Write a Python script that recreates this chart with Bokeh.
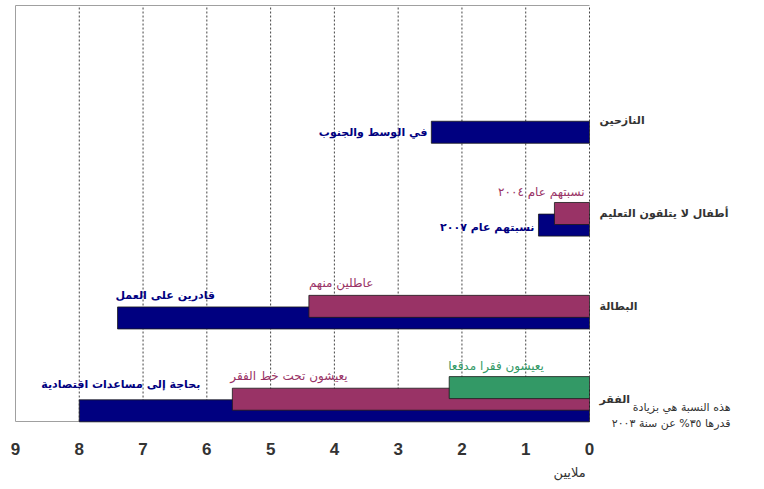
from bokeh.plotting import figure
from bokeh.models import Range1d, FixedTicker, Title
from bokeh.core.properties import value
from bokeh.embed import file_html
from bokeh.resources import INLINE

# Categories, top to bottom
categories = ["النازحين", "أطفال لا يتلقون التعليم", "البطالة", "الفقر"]

# Values in millions (None = no bar in that category)
navy_vals = [2.48, 0.8, 7.4, 8.0]
maroon_vals = [None, 0.55, 4.4, 5.6]
green_vals = [None, None, None, 2.2]

navy_text = ["في الوسط والجنوب", "نسبتهم عام ٢٠٠٧", "قادرين على العمل", "بحاجة إلى مساعدات اقتصادية"]
maroon_text = [None, "نسبتهم عام ٢٠٠٤", "عاطلين منهم", "يعيشون تحت خط الفقر"]
green_text = [None, None, None, "يعيشون فقرا مدقعا"]

x_ticks = list(range(0, 10))
x_label = "ملايين"
note_lines = ["هذه النسبة هي بزيادة", "قدرها ٣٥% عن سنة ٢٠٠٣"]

NAVY = "#000080"
MAROON = "#993366"
GREEN = "#339966"
AR_FONT = value("DejaVu Sans")

n = len(categories)
ypos = [n - 1 - i for i in range(n)]  # top category gets the highest y

# bar area spans x 9..0 and y -0.24..4.24; the frame reaches further right and
# a little lower so the category names and the footnote can sit beside the bars
X_HI, X_LO = max(x_ticks), min(x_ticks)
Y_LO, Y_HI = -0.24, 4.24
PX_X = 574 / (X_HI - X_LO)          # pixels per million
PX_Y = 416 / (Y_HI - Y_LO)          # pixels per category step

p = figure(width=764, height=489, output_backend="svg", toolbar_location=None,
           x_range=Range1d(X_HI + 1 / PX_X, X_LO - 175 / PX_X),
           y_range=Range1d(Y_LO - 13 / PX_Y, Y_HI + 1 / PX_Y),
           min_border_left=14, min_border_right=0, min_border_top=4,
           min_border_bottom=55, y_axis_location=None, x_axis_location="below")
p.background_fill_color = "white"
p.border_fill_color = "white"
p.outline_line_color = None

# bottom axis: numbers only
xa = p.xaxis[0]
xa.ticker = FixedTicker(ticks=x_ticks)
xa.axis_line_color = None
xa.major_tick_line_color = None
xa.minor_tick_line_color = None
xa.major_label_text_font = "Liberation Sans"
xa.major_label_text_font_style = "bold"
xa.major_label_text_font_size = "17px"
xa.major_label_text_color = "#333333"
xa.major_label_standoff = 2

p.xgrid.grid_line_color = None
p.ygrid.grid_line_color = None

# dotted gridlines at the inner ticks, limited to the bar area
inner = x_ticks[1:-1]
p.segment(x0=inner, y0=[Y_LO] * len(inner), x1=inner, y1=[Y_HI] * len(inner),
          line_color="#444444", line_width=1, line_dash="2 2")

# plot-area border (top, left, bottom)
p.segment(x0=[X_HI, X_HI, X_HI], y0=[Y_HI, Y_LO, Y_LO],
          x1=[X_LO, X_HI, X_LO], y1=[Y_HI, Y_HI, Y_LO],
          line_color="#a0a0a0", line_width=1)

BAR_H = 0.237
series = [
    (navy_vals, NAVY, -0.125),
    (maroon_vals, MAROON, 0.0),
    (green_vals, GREEN, 0.125),
]
for vals, color, off in series:
    ys, rs = [], []
    for y, v in zip(ypos, vals):
        if v is not None:
            ys.append(y + off)
            rs.append(v)
    p.hbar(y=ys, left=0, right=rs, height=BAR_H, fill_color=color,
           line_color="#1a1a1a", line_width=0.8)

# dotted zero line on the right
p.segment(x0=[X_LO], y0=[Y_LO], x1=[X_LO], y1=[Y_HI],
          line_color="#444444", line_width=1, line_dash="2 2")

# category names to the right of the zero line
p.text(x=[X_LO] * n, y=ypos, text=categories, text_color="#333333",
       text_align="left", text_baseline="middle", text_font=AR_FONT,
       text_font_size="11px", text_font_style="bold", x_offset=10)

def put(x, y, txt, color, align, xo, yo, bold=False):
    p.text(x=[x], y=[y], text=[txt], text_color=color, text_align=align,
           text_baseline="middle", text_font=AR_FONT,
           text_font_size="11px" if bold else "12px",
           text_font_style="bold" if bold else "normal", x_offset=xo, y_offset=yo)

# displaced
put(navy_vals[0], ypos[0] - 0.125, navy_text[0], NAVY, "right", -4, 0, True)
# children
put(0, ypos[1], maroon_text[1], MAROON, "right", -5, -22)
put(navy_vals[1], ypos[1] - 0.125, navy_text[1], NAVY, "right", -4, 2, True)
# unemployment
put(maroon_vals[2], ypos[2], maroon_text[2], MAROON, "left", 0, -23)
put(navy_vals[2], ypos[2] - 0.125, navy_text[2], NAVY, "left", -2, -22, True)
# poverty
put(green_vals[3], ypos[3] + 0.125, green_text[3], GREEN, "left", -1, -22)
put(maroon_vals[3], ypos[3], maroon_text[3], MAROON, "left", -2, -23)
put(navy_vals[3], ypos[3] - 0.125, navy_text[3], NAVY, "left", -38, -26, True)

# footnote beside the poverty row
for i, line in enumerate(note_lines):
    p.text(x=[X_LO], y=[ypos[3]], text=[line], text_color="#333333",
           text_align="right", text_baseline="middle", text_font=AR_FONT,
           text_font_size="11px", x_offset=141, y_offset=8 + 16 * i)

# unit name under the numbers
p.add_layout(Title(text=x_label, align="left", offset=539, standoff=10,
                   text_font="DejaVu Sans", text_font_size="13px",
                   text_font_style="normal", text_color="#333333"), "below")

open("out.html", "w").write(file_html(p, INLINE))
